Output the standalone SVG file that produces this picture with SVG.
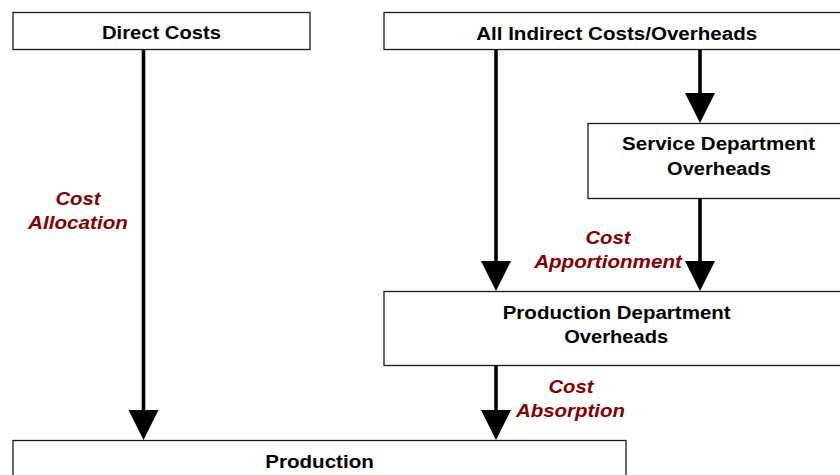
<svg xmlns="http://www.w3.org/2000/svg" width="840" height="475" viewBox="0 0 840 475">
  <defs>
    <style>
      .box { fill: #ffffff; stroke: #1a1a1a; stroke-width: 1.3; }
      .lbl { font-family: "Liberation Sans", Arial, sans-serif; font-size: 18px; font-weight: bold; fill: #000000; text-anchor: middle; }
      .tag { font-family: "Liberation Sans", Arial, sans-serif; font-size: 18px; font-weight: bold; font-style: italic; fill: #800000; text-anchor: middle; }
      .flow { stroke: #000000; stroke-width: 3.6; fill: none; marker-end: url(#head); }
    </style>
    <marker id="head" markerUnits="userSpaceOnUse" viewBox="0 0 30 30" refX="0" refY="15" markerWidth="30" markerHeight="30" orient="auto">
      <path d="M0,0 L30,15 L0,30 Z" fill="#000000"/>
    </marker>
  </defs>

  <rect width="840" height="475" fill="#ffffff"/>

  <!-- connectors -->
  <g id="connectors">
    <line class="flow" x1="143.5" y1="50" x2="143.5" y2="410"/>
    <line class="flow" x1="496" y1="49" x2="496" y2="261"/>
    <line class="flow" x1="700" y1="49" x2="700" y2="93"/>
    <line class="flow" x1="700" y1="198" x2="700" y2="261"/>
    <line class="flow" x1="496" y1="366" x2="496" y2="410"/>
  </g>

  <!-- connector labels -->
  <g id="labels">
    <text class="tag" x="78" y="205" textLength="45" lengthAdjust="spacingAndGlyphs">Cost</text>
    <text class="tag" x="78" y="229" textLength="100" lengthAdjust="spacingAndGlyphs">Allocation</text>
    <text class="tag" x="608" y="243.5" textLength="45" lengthAdjust="spacingAndGlyphs">Cost</text>
    <text class="tag" x="608" y="268" textLength="147.7" lengthAdjust="spacingAndGlyphs">Apportionment</text>
    <text class="tag" x="571" y="392.5" textLength="45" lengthAdjust="spacingAndGlyphs">Cost</text>
    <text class="tag" x="570.5" y="416.5" textLength="109" lengthAdjust="spacingAndGlyphs">Absorption</text>
  </g>

  <g id="direct-costs">
    <rect class="box" x="13" y="12.5" width="297" height="37"/>
    <text class="lbl" x="161.5" y="39" textLength="119" lengthAdjust="spacingAndGlyphs">Direct Costs</text>
  </g>

  <g id="indirect-costs">
    <rect class="box" x="384" y="12.5" width="465" height="37"/>
    <text class="lbl" x="616.7" y="39.5" textLength="281" lengthAdjust="spacingAndGlyphs">All Indirect Costs/Overheads</text>
  </g>

  <g id="service-dept">
    <rect class="box" x="588" y="123.5" width="261" height="75"/>
    <text class="lbl" x="718.5" y="150" textLength="193" lengthAdjust="spacingAndGlyphs">Service Department</text>
    <text class="lbl" x="719" y="175" textLength="104" lengthAdjust="spacingAndGlyphs">Overheads</text>
  </g>

  <g id="production-dept">
    <rect class="box" x="384" y="291.5" width="465" height="74"/>
    <text class="lbl" x="616.7" y="319" textLength="228" lengthAdjust="spacingAndGlyphs">Production Department</text>
    <text class="lbl" x="616.2" y="342.7" textLength="104" lengthAdjust="spacingAndGlyphs">Overheads</text>
  </g>

  <g id="production">
    <rect class="box" x="13" y="440.5" width="613" height="60"/>
    <text class="lbl" x="319.5" y="468" textLength="108.7" lengthAdjust="spacingAndGlyphs">Production</text>
  </g>
</svg>
